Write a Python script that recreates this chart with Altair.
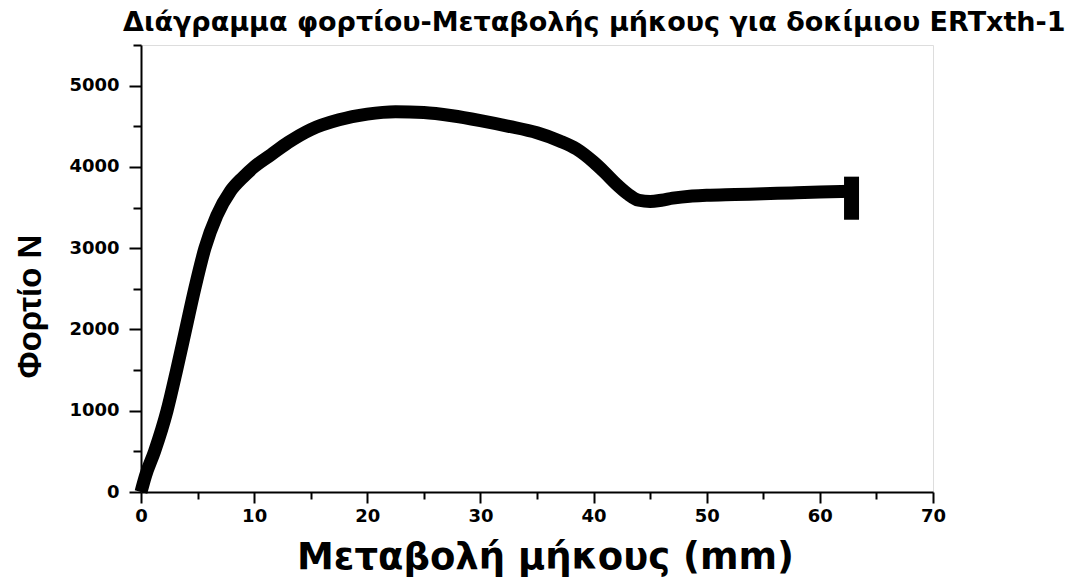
import altair as alt
import pandas as pd

# Curve data
elong = [0, 0.4, 1.2, 2.3, 3.15, 3.95, 4.75, 5.65, 6.7, 7.9, 9.0, 10, 11.5, 13, 15,
         17.5, 20, 22.5, 25, 27.5, 30, 32.5, 35, 37, 38.5, 40, 41, 42, 43, 44, 45, 46,
         47, 48.5, 50, 52.5, 55, 57.5, 60, 62.8]
load = [0, 200, 500, 1000, 1500, 2000, 2500, 3000, 3400, 3700, 3870, 4000, 4150,
        4300, 4460, 4580, 4650, 4680, 4670, 4630, 4570, 4500, 4420, 4320, 4220, 4060,
        3930, 3790, 3670, 3590, 3575, 3590, 3615, 3640, 3650, 3660, 3670, 3680, 3690, 3700]

# Final break marker (vertical bar at the end of the test)
end_x = [62.8]
end_lo = [3350]
end_hi = [3880]

x_ticks = [0, 5, 10, 15, 20, 25, 30, 35, 40, 45, 50, 55, 60, 65, 70]
y_ticks = [0, 500, 1000, 1500, 2000, 2500, 3000, 3500, 4000, 4500, 5000, 5500]

title_text = "Διάγραμμα φορτίου-Μεταβολής μήκους για δοκίμιου ERTxth-1"
x_title = "Μεταβολή μήκους (mm)"
y_title = "Φορτίο N"

df = pd.DataFrame({"x": elong, "y": load})
df_end = pd.DataFrame({"x": end_x, "lo": end_lo, "hi": end_hi})

FONT = "DejaVu Sans"

x_scale = alt.Scale(domain=[0, 70], nice=False, zero=False)
y_scale = alt.Scale(domain=[0, 5500], nice=False, zero=False)

x_axis = alt.Axis(
    values=x_ticks,
    labelExpr="datum.value % 10 === 0 ? datum.label : ''",
    tickSize={"condition": {"test": "datum.value % 10 === 0", "value": 11}, "value": 7},
    tickColor="black", tickWidth=2, domainColor="black", domainWidth=2,
    labelFont=FONT, labelFontWeight="bold", labelFontSize=18, labelColor="black",
    labelPadding=4, grid=False,
    title=x_title, titleFont=FONT, titleFontWeight="bold", titleFontSize=37,
    titleColor="black", titleX=404, titleY=76, titleBaseline="alphabetic",
    titleAlign="center", labelFlush=False,
)
y_axis = alt.Axis(
    values=y_ticks,
    labelExpr="datum.value % 1000 === 0 ? datum.label : ''",
    tickSize={"condition": {"test": "datum.value % 1000 === 0", "value": 12}, "value": 8},
    tickColor="black", tickWidth=2, domainColor="black", domainWidth=2,
    labelFont=FONT, labelFontWeight="bold", labelFontSize=18, labelColor="black",
    labelPadding=10, grid=False, format="d",
    title=y_title, titleFont="Liberation Sans", titleFontWeight="bold", titleFontSize=33,
    titleColor="black", titleAngle=-90, titleX=-111, titleY=261,
    titleBaseline="middle", titleAlign="center", labelFlush=False,
)

line = alt.Chart(df).mark_line(
    color="black", strokeWidth=13, interpolate="monotone", strokeCap="butt", strokeJoin="round"
).encode(
    x=alt.X("x:Q", scale=x_scale, axis=x_axis),
    y=alt.Y("y:Q", scale=y_scale, axis=y_axis),
)

end_bar = alt.Chart(df_end).mark_rule(color="black", strokeWidth=15).encode(
    x=alt.X("x:Q", scale=x_scale),
    y=alt.Y("lo:Q", scale=y_scale),
    y2="hi:Q",
)

chart = alt.layer(line, end_bar).properties(
    width=792,
    height=447,
    title=alt.TitleParams(
        text=title_text, anchor="start", frame="group", font=FONT,
        fontWeight="bold", fontSize=27, color="black", dx=-18, offset=7,
    ),
    autosize=alt.AutoSizeParams(type="none"),
    padding={"left": 141, "top": 45, "right": 154, "bottom": 86},
).configure_view(stroke=None).configure(background="white")

chart.save("out.html", embed_options={"renderer": "svg", "actions": False})
